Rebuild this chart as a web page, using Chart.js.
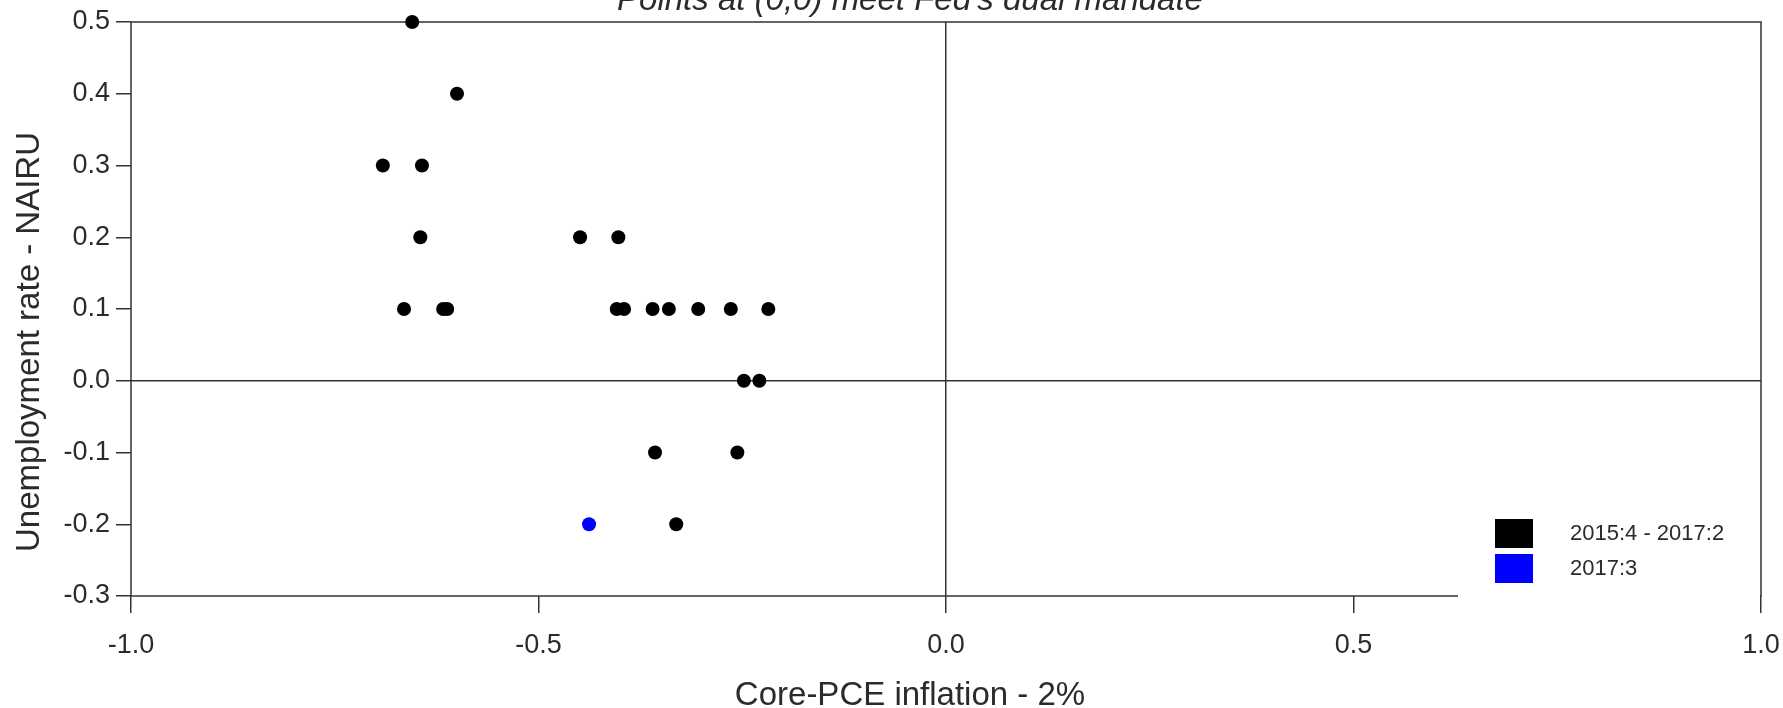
<!DOCTYPE html>
<html>
<head>
<meta charset="utf-8">
<title>Points at (0,0) meet Fed's dual mandate</title>
<script src="https://cdn.jsdelivr.net/npm/chart.js@4.4.1/dist/chart.umd.min.js"></script>
<style>
  html, body { margin: 0; padding: 0; background: #fff; }
  #wrap { width: 1783px; height: 708px; }
</style>
</head>
<body>
<div id="wrap"><canvas id="mandate"></canvas></div>
<script>
    "use strict";

    // Core-PCE inflation - 2%  vs  unemployment rate - NAIRU, 2015:4 - 2017:2
    var inflationGap = [-0.655, -0.600, -0.691, -0.643, -0.645, -0.449, -0.402, -0.665, -0.617, -0.612, -0.404,
                        -0.395, -0.360, -0.340, -0.304, -0.264, -0.218, -0.248, -0.229, -0.357, -0.256, -0.331];
    var unemploymentGap = [0.5, 0.4, 0.3, 0.3, 0.2, 0.2, 0.2, 0.1, 0.1, 0.1, 0.1,
                           0.1, 0.1, 0.1, 0.1, 0.1, 0.1, 0.0, 0.0, -0.1, -0.1, -0.2];

    // latest quarter, 2017:3
    var latestInflationGap = [-0.438];
    var latestUnemploymentGap = [-0.2];

    var xTicks = [-1.0, -0.5, 0.0, 0.5, 1.0];
    var yTicks = [-0.3, -0.2, -0.1, 0.0, 0.1, 0.2, 0.3, 0.4, 0.5];
    var seriesLabels = ["2015:4 - 2017:2", "2017:3"];
    var seriesColors = ["#000000", "#0000ff"];

    var chartTitle = "Points at (0,0) meet Fed's dual mandate";
    var xTitle = "Core-PCE inflation - 2%";
    var yTitle = "Unemployment rate - NAIRU";

    var lineColor = "#333333";
    var textColor = "#2b2b2b";
    var fontFamily = "'Liberation Sans', Arial, Helvetica, sans-serif";

    function toPoints(xs, ys) {
        return xs.map(function (x, i) { return {x: x, y: ys[i]}; });
    }

    // box, titles and the legend in the lower right corner (R style)
    var framePlugin = {
        id: 'frame',
        beforeDatasetsDraw: function (chart) {
            var a = chart.chartArea, ctx = chart.ctx;
            ctx.save();
            ctx.strokeStyle = lineColor;
            ctx.lineWidth = 1.5;
            ctx.strokeRect(a.left, a.top, a.right - a.left, a.bottom - a.top);
            ctx.restore();
        },
        afterDraw: function (chart) {
            var a = chart.chartArea, ctx = chart.ctx;
            ctx.save();

            // legend
            ctx.fillStyle = "#ffffff";
            ctx.fillRect(a.right - 303, a.bottom - 96, 302, 104);
            chart.data.datasets.forEach(function (ds, i) {
                var top = a.bottom - 77 + i * 35;
                ctx.fillStyle = ds.backgroundColor;
                ctx.fillRect(a.right - 266, top, 38, 29);
                ctx.fillStyle = textColor;
                ctx.font = "22px " + fontFamily;
                ctx.textAlign = "left";
                ctx.textBaseline = "middle";
                ctx.fillText(ds.label, a.right - 191, top + 15);
            });

            ctx.fillStyle = textColor;
            ctx.textAlign = "center";
            ctx.textBaseline = "alphabetic";

            // main title, mostly cut off at the top
            ctx.font = "italic 33px " + fontFamily;
            ctx.fillText(chartTitle, 910, 10);

            // x title
            ctx.font = "33px " + fontFamily;
            ctx.fillText(xTitle, 910, 705);

            // y title
            ctx.translate(39, 342);
            ctx.rotate(-Math.PI / 2);
            ctx.fillText(yTitle, 0, 0);

            ctx.restore();
        }
    };

    var ctx1 = document.getElementById("mandate").getContext("2d");
    var myChart1 = new Chart(ctx1, {
        type: "scatter",
        data: {
            datasets: [{
                    label: seriesLabels[0],
                    data: toPoints(inflationGap, unemploymentGap),
                    backgroundColor: seriesColors[0],
                    borderWidth: 0,
                    pointRadius: 7,
                    clip: false
                },
                {
                    label: seriesLabels[1],
                    data: toPoints(latestInflationGap, latestUnemploymentGap),
                    backgroundColor: seriesColors[1],
                    borderWidth: 0,
                    pointRadius: 7,
                    clip: false
                }
            ]
        },
        options: {
            responsive: true,
            maintainAspectRatio: false,
            animation: false,
            layout: {
                padding: {top: 22, right: 22, left: 0, bottom: 0}
            },
            plugins: {
                legend: {display: false},
                tooltip: {enabled: false}
            },
            scales: {
                x: {
                    type: "linear",
                    min: -1,
                    max: 1,
                    afterBuildTicks: function (scale) {
                        scale.ticks = xTicks.map(function (v) { return {value: v}; });
                    },
                    afterFit: function (scale) {
                        scale.height = 112;
                        scale.paddingLeft = 0;
                        scale.paddingRight = 0;
                    },
                    ticks: {
                        color: textColor,
                        font: {family: fontFamily, size: 27},
                        padding: 16,
                        maxRotation: 0,
                        callback: function (v) { return v.toFixed(1); }
                    },
                    grid: {
                        color: function (c) { return c.tick && c.tick.value === 0 ? lineColor : "rgba(0,0,0,0)"; },
                        lineWidth: 1.5,
                        tickColor: lineColor,
                        tickWidth: 1.5,
                        tickLength: 17
                    },
                    border: {display: false}
                },
                y: {
                    type: "linear",
                    min: -0.3,
                    max: 0.5,
                    afterBuildTicks: function (scale) {
                        scale.ticks = yTicks.map(function (v) { return {value: v}; });
                    },
                    afterFit: function (scale) {
                        scale.width = 131;
                        scale.paddingTop = 0;
                        scale.paddingBottom = 0;
                    },
                    ticks: {
                        color: textColor,
                        font: {family: fontFamily, size: 27},
                        padding: 6,
                        callback: function (v) { return v.toFixed(1); }
                    },
                    grid: {
                        color: function (c) { return c.tick && Math.abs(c.tick.value) < 1e-9 ? lineColor : "rgba(0,0,0,0)"; },
                        lineWidth: 1.5,
                        tickColor: lineColor,
                        tickWidth: 1.5,
                        tickLength: 15
                    },
                    border: {display: false}
                }
            }
        },
        plugins: [framePlugin]
    });
</script>
</body>
</html>
